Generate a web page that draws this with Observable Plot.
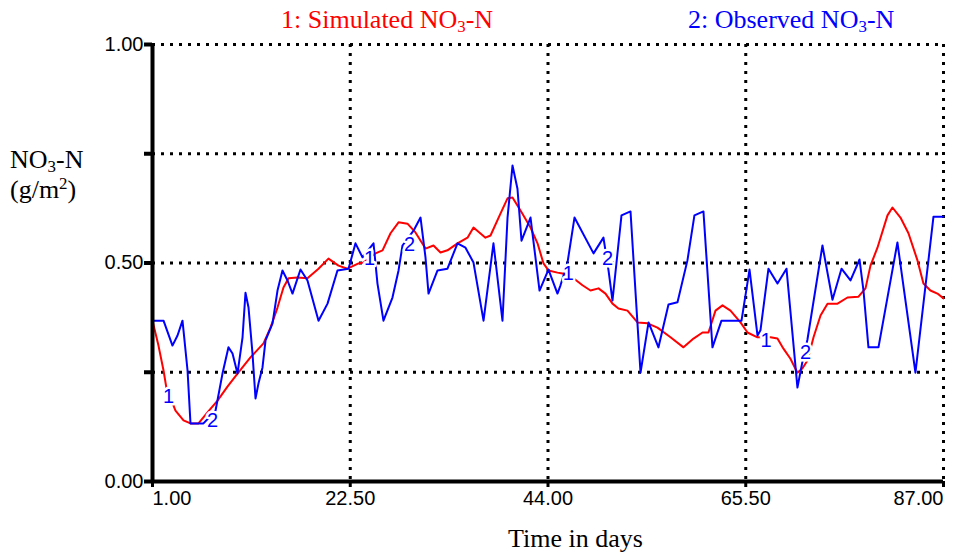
<!DOCTYPE html>
<html><head><meta charset="utf-8">
<script src="https://cdn.jsdelivr.net/npm/d3@7"></script>
<script src="https://cdn.jsdelivr.net/npm/@observablehq/plot@0.6"></script>
<style>
body{margin:0;background:#fff;}
#wrap{position:relative;width:954px;height:557px;overflow:hidden;}
.serif{font-family:"Liberation Serif","Times New Roman",serif;font-size:26px;line-height:26px;white-space:nowrap;}
#legend{position:relative;height:36px;}
#legend span{position:absolute;top:7px;}
sub,sup{font-size:0.65em;line-height:0;}
sub{vertical-align:-0.25em;}
sup{vertical-align:0.55em;}
#xtitle{height:31px;padding-top:11px;position:relative;}
#xtitle span{position:absolute;left:508px;}
#ylabel{position:absolute;left:10px;top:145px;line-height:30px;}
#chart svg{display:block;}
</style></head><body>
<div id="wrap">
  <div id="legend" class="serif">
    <span style="left:281px;color:#ff0000">1: Simulated NO<sub>3</sub>-N</span>
    <span style="left:688px;color:#0000ff">2: Observed NO<sub>3</sub>-N</span>
  </div>
  <div id="chart"></div>
  <div id="xtitle" class="serif"><span>Time in days</span></div>
  <div id="ylabel" class="serif">NO<sub>3</sub>-N<br>(g/m<sup>2</sup>)</div>
</div>
<script>
// Simulated NO3-N (series 1)
const simDays = [1.0,1.65,2.20,2.52,3.07,3.50,4.37,5.13,6.00,6.98,8.07,9.15,10.24,11.65,13.07,13.83,14.59,15.24,15.79,16.76,17.85,19.05,20.13,21.22,22.20,23.40,23.94,25.24,26.01,26.88,27.75,28.72,29.59,30.68,31.55,32.31,33.07,34.16,35.25,35.90,37.20,37.75,38.83,39.60,40.14,41.01,42.10,42.86,43.51,44.05,45.03,45.58,46.23,46.77,47.75,48.62,49.49,50.25,51.01,51.66,52.64,53.73,54.82,55.90,57.32,58.73,59.82,60.80,61.45,62.21,62.97,63.84,64.93,65.69,66.78,68.19,68.95,69.60,70.36,71.12,71.67,72.21,72.87,73.63,74.39,75.48,76.56,77.76,78.52,79.06,79.82,80.91,81.45,82.32,83.19,84.17,84.82,85.58,86.34,87.00];
const simVals = [0.368,0.311,0.254,0.213,0.185,0.162,0.140,0.133,0.133,0.158,0.185,0.217,0.247,0.284,0.316,0.352,0.398,0.444,0.465,0.467,0.465,0.487,0.510,0.494,0.487,0.499,0.501,0.522,0.529,0.568,0.593,0.590,0.570,0.533,0.540,0.524,0.529,0.545,0.558,0.581,0.558,0.563,0.613,0.648,0.650,0.620,0.581,0.545,0.499,0.483,0.478,0.476,0.471,0.465,0.449,0.437,0.442,0.430,0.407,0.396,0.391,0.364,0.362,0.352,0.330,0.307,0.327,0.341,0.341,0.391,0.403,0.391,0.364,0.341,0.330,0.330,0.327,0.304,0.281,0.249,0.259,0.277,0.330,0.380,0.407,0.407,0.421,0.423,0.442,0.494,0.535,0.609,0.627,0.604,0.568,0.506,0.453,0.437,0.430,0.419];
// Observed NO3-N (series 2)
const obsDays = [1.0,2.20,3.17,3.72,4.26,4.37,4.81,5.13,6.54,7.85,8.61,9.26,9.70,10.24,10.79,11.11,11.44,11.87,12.20,12.52,12.96,13.29,14.05,14.59,15.13,15.68,16.22,17.09,17.85,19.05,20.03,21.11,22.31,23.07,23.83,25.03,25.46,26.11,27.09,27.75,28.18,29.38,30.14,30.68,31.01,31.99,33.07,34.16,35.03,35.90,36.99,38.07,39.05,39.60,40.14,40.68,41.12,41.55,42.10,43.08,44.05,45.03,45.36,46.12,46.88,48.95,50.03,50.58,51.01,51.99,52.97,54.06,54.93,56.01,57.10,58.08,59.16,59.92,60.90,61.88,62.86,65.04,65.91,66.78,67.10,67.97,68.95,69.93,71.12,71.67,72.21,73.84,74.93,75.91,76.89,77.87,78.30,78.84,79.93,81.99,83.95,85.91,87.00];
const obsVals = [0.368,0.368,0.311,0.334,0.368,0.346,0.254,0.133,0.133,0.162,0.247,0.307,0.293,0.247,0.330,0.432,0.398,0.293,0.190,0.224,0.261,0.323,0.362,0.437,0.483,0.460,0.430,0.485,0.460,0.368,0.407,0.483,0.487,0.545,0.513,0.545,0.453,0.368,0.421,0.483,0.540,0.574,0.604,0.513,0.430,0.483,0.487,0.545,0.535,0.501,0.368,0.545,0.368,0.604,0.723,0.670,0.551,0.574,0.604,0.437,0.485,0.430,0.449,0.501,0.604,0.522,0.558,0.483,0.414,0.609,0.618,0.249,0.364,0.307,0.405,0.410,0.506,0.609,0.618,0.307,0.368,0.368,0.485,0.334,0.346,0.487,0.453,0.487,0.215,0.275,0.325,0.540,0.416,0.487,0.460,0.508,0.437,0.307,0.307,0.547,0.249,0.606,0.606];
// Series number labels placed on the curves
const label1Days = [2.75,24.6,46.2,67.7];
const label1Vals = [0.195,0.510,0.476,0.323];
const label2Days = [7.52,28.94,50.47,71.99];
const label2Vals = [0.140,0.542,0.510,0.295];
// Axis ticks
const xTicks = [1,22.5,44,65.5,87];
const yTicks = [0,0.25,0.5,0.75,1];
const gridY = [0.25,0.5,0.75,1];
const gridX = [22.5,44,65.5,87];

const sim = simDays.map((d,i)=>({day:d, v:simVals[i]}));
const obs = obsDays.map((d,i)=>({day:d, v:obsVals[i]}));
const lab1 = label1Days.map((d,i)=>({day:d, v:label1Vals[i]}));
const lab2 = label2Days.map((d,i)=>({day:d, v:label2Vals[i]}));

const sans = '"Liberation Sans Narrow","Liberation Sans",Arial,sans-serif';
const dots = {stroke:"#000", strokeWidth:3, strokeDasharray:"3,6"};
const fmt = d => d.toFixed(2);
const yFmt = d => (d === 0 || d === 0.5 || d === 1) ? d.toFixed(2) : "";

const chart = Plot.plot({
  width:954, height:479,
  marginTop:8, marginLeft:152, marginRight:11, marginBottom:34,
  style:{fontFamily:sans, fontSize:"20px", background:"#fff", overflow:"visible"},
  x:{type:"linear", domain:[1,87], axis:null},
  y:{type:"linear", domain:[0,1], axis:null},
  marks:[
    Plot.ruleY(gridY, dots),
    Plot.ruleX(gridX, dots),
    Plot.line(sim, {x:"day", y:"v", stroke:"#ff0000", strokeWidth:2}),
    Plot.line(obs, {x:"day", y:"v", stroke:"#0000ff", strokeWidth:2}),
    Plot.text(lab1, {x:"day", y:"v", text:()=>"1", fill:"#0000ff", stroke:"#fff", strokeWidth:5, fontSize:20, fontFamily:sans}),
    Plot.text(lab2, {x:"day", y:"v", text:()=>"2", fill:"#0000ff", stroke:"#fff", strokeWidth:5, fontSize:20, fontFamily:sans}),
    Plot.ruleY([0], {stroke:"#000", strokeWidth:4}),
    Plot.ruleX([1], {stroke:"#000", strokeWidth:4}),
    Plot.axisY(yTicks, {ticks:yTicks, tickSize:8, strokeWidth:4, tickPadding:1, tickFormat:yFmt, fontSize:20, fontFamily:sans, label:null}),
    Plot.axisX(xTicks, {ticks:xTicks, tickSize:6, strokeWidth:3, tickFormat:()=>"", label:null}),
    Plot.text([xTicks[0]], {x:d=>d, frameAnchor:"bottom", dy:9, lineAnchor:"top", textAnchor:"start", text:fmt, fontSize:20, fontFamily:sans}),
    Plot.text(xTicks.slice(1,-1), {x:d=>d, frameAnchor:"bottom", dy:9, lineAnchor:"top", text:fmt, fontSize:20, fontFamily:sans}),
    Plot.text([xTicks[xTicks.length-1]], {x:d=>d, frameAnchor:"bottom", dy:9, lineAnchor:"top", textAnchor:"end", text:fmt, fontSize:20, fontFamily:sans})
  ]
});
document.getElementById("chart").appendChild(chart);
</script>
</body></html>
